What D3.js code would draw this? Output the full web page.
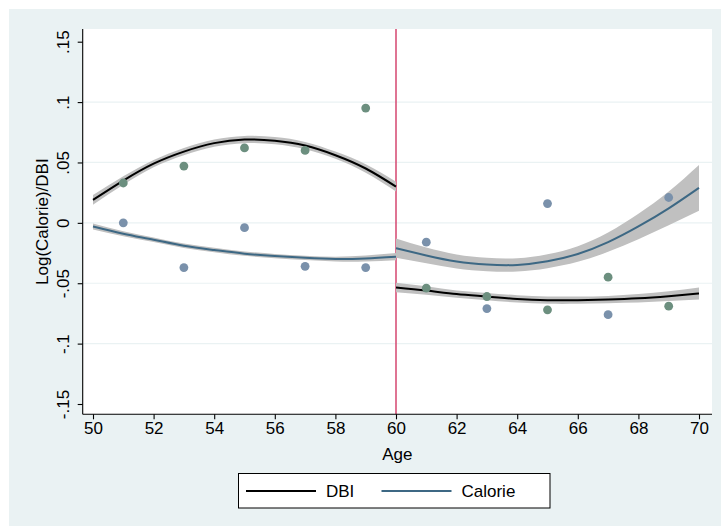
<!DOCTYPE html>
<html>
  <head>
    <title>Log(Calorie)/DBI by Age</title>
  </head>
  <body>
    <style>
      body, html {
        margin: 0;
        padding: 0;
        background: #fff;
      }
      svg text {
        font-family: "Liberation Sans", Arial, sans-serif;
        fill: #000;
      }
    </style>

    <svg id="svg" width="721" height="526"></svg>

    <script src="https://cdn.jsdelivr.net/npm/d3@7"></script>
    <script>
      // binned means (scatter)
      const binAgesLeft = [51, 53, 55, 57, 59];
      const binAgesRight = [61, 63, 65, 67, 69];
      const dbiBinsLeft = [0.033, 0.047, 0.062, 0.060, 0.095];
      const calBinsLeft = [0.000, -0.037, -0.004, -0.036, -0.037];
      const dbiBinsRight = [-0.054, -0.061, -0.072, -0.045, -0.069];
      const calBinsRight = [-0.016, -0.071, 0.016, -0.076, 0.021];

      // fitted lines and CI half-widths, read at whole ages
      const fitAgesLeft = [50, 51, 52, 53, 54, 55, 56, 57, 58, 59, 60];
      const fitAgesRight = [60, 61, 62, 63, 64, 65, 66, 67, 68, 69, 70];
      const dbiFitLeft = [0.019, 0.035, 0.049, 0.059, 0.066, 0.069, 0.068, 0.064, 0.056, 0.045, 0.030];
      const dbiCiLeft = [0.004, 0.0035, 0.003, 0.003, 0.003, 0.003, 0.003, 0.003, 0.003, 0.0035, 0.004];
      const calFitLeft = [-0.003, -0.009, -0.014, -0.019, -0.0225, -0.0255, -0.0275, -0.029, -0.030, -0.0295, -0.028];
      const calCiLeft = [0.0025, 0.002, 0.0018, 0.0018, 0.0018, 0.0018, 0.0018, 0.0018, 0.002, 0.0025, 0.003];
      const dbiFitRight = [-0.0535, -0.056, -0.059, -0.061, -0.063, -0.064, -0.064, -0.0635, -0.0625, -0.0607, -0.0585];
      const dbiCiRight = [0.004, 0.0035, 0.003, 0.003, 0.003, 0.003, 0.003, 0.003, 0.0035, 0.004, 0.005];
      const calFitRight = [-0.021, -0.027, -0.032, -0.0345, -0.0348, -0.0318, -0.0258, -0.016, -0.003, 0.012, 0.029];
      const calCiRight = [0.008, 0.0065, 0.0058, 0.0055, 0.0055, 0.0058, 0.0065, 0.008, 0.0105, 0.014, 0.019];

      const xTicks = [50, 52, 54, 56, 58, 60, 62, 64, 66, 68, 70];
      const yTicks = [-0.15, -0.1, -0.05, 0, 0.05, 0.1, 0.15];
      const yTickLabels = ['-.15', '-.1', '-.05', '0', '.05', '.1', '.15'];
      const cutoff = 60;
      const legendItems = ['DBI', 'Calorie'];

      const colors = {
        dbiLine: '#000000',
        calLine: '#3d6884',
        dbiDot: '#6c8f7f',
        calDot: '#7a91ab',
        band: '#c0c0c0',
        bg: '#eaf2f3',
        grid: '#eaf2f3',
        xline: '#d5466f'
      };

      const plot = { left: 82.7, right: 712, top: 29, bottom: 414.3 };

      const svg = d3.select('#svg');

      // outer background + plot region
      svg.append('rect')
        .attr('x', 9).attr('y', 9)
        .attr('width', 721 - 9).attr('height', 526 - 9)
        .attr('fill', colors.bg);
      svg.append('rect')
        .attr('x', plot.left).attr('y', plot.top)
        .attr('width', plot.right - plot.left).attr('height', plot.bottom - plot.top)
        .attr('fill', '#fff');

      const xscale = d3.scaleLinear().domain([50, 70]).range([93, 699]);
      const yscale = d3.scaleLinear().domain([-0.15, 0.15]).range([404, 41.7]);

      // gridlines (interior ticks only)
      svg.append('g')
        .selectAll('line')
        .data(yTicks.slice(1, -1))
        .join('line')
        .attr('x1', plot.left).attr('x2', plot.right)
        .attr('y1', d => yscale(d)).attr('y2', d => yscale(d))
        .attr('stroke', colors.grid)
        .attr('stroke-width', 1.2);

      // cutoff line
      svg.append('line')
        .attr('x1', xscale(cutoff)).attr('x2', xscale(cutoff))
        .attr('y1', plot.top).attr('y2', plot.bottom)
        .attr('stroke', colors.xline)
        .attr('stroke-width', 1.5);

      const area = d3.area()
        .x(d => xscale(d.age))
        .y0(d => yscale(d.v - d.ci))
        .y1(d => yscale(d.v + d.ci))
        .curve(d3.curveNatural);

      const line = d3.line()
        .x(d => xscale(d.age))
        .y(d => yscale(d.v))
        .curve(d3.curveNatural);

      const zipFit = (ages, vals, cis) => ages.map((age, i) => ({ age, v: vals[i], ci: cis[i] }));

      const fits = [
        { pts: zipFit(fitAgesLeft, dbiFitLeft, dbiCiLeft), color: colors.dbiLine },
        { pts: zipFit(fitAgesLeft, calFitLeft, calCiLeft), color: colors.calLine },
        { pts: zipFit(fitAgesRight, dbiFitRight, dbiCiRight), color: colors.dbiLine },
        { pts: zipFit(fitAgesRight, calFitRight, calCiRight), color: colors.calLine }
      ];

      svg.append('g')
        .selectAll('path')
        .data(fits)
        .join('path')
        .attr('d', d => area(d.pts))
        .attr('fill', colors.band);

      svg.append('g')
        .selectAll('path')
        .data(fits)
        .join('path')
        .attr('d', d => line(d.pts))
        .attr('fill', 'none')
        .attr('stroke', d => d.color)
        .attr('stroke-width', 2);

      // scatter points
      const dots = [];
      binAgesLeft.forEach((a, i) => {
        dots.push({ age: a, v: dbiBinsLeft[i], c: colors.dbiDot });
        dots.push({ age: a, v: calBinsLeft[i], c: colors.calDot });
      });
      binAgesRight.forEach((a, i) => {
        dots.push({ age: a, v: dbiBinsRight[i], c: colors.dbiDot });
        dots.push({ age: a, v: calBinsRight[i], c: colors.calDot });
      });

      svg.append('g')
        .selectAll('circle')
        .data(dots)
        .join('circle')
        .attr('cx', d => xscale(d.age))
        .attr('cy', d => yscale(d.v))
        .attr('r', 4.4)
        .attr('fill', d => d.c);

      // axes
      const bottomAxis = d3.axisBottom(xscale)
        .tickValues(xTicks)
        .tickSize(5)
        .tickSizeOuter(0);
      const gx = svg.append('g')
        .attr('transform', `translate(0, ${plot.bottom})`)
        .call(bottomAxis);
      gx.select('.domain').remove();
      gx.selectAll('.tick line').attr('stroke', '#000').attr('stroke-width', 1.1);
      gx.selectAll('.tick text')
        .attr('y', 8)
        .attr('dy', '0.71em')
        .style('font-size', '17px')
        .style('font-family', '"Liberation Sans", Arial, sans-serif');
      svg.append('line')
        .attr('x1', plot.left).attr('x2', plot.right)
        .attr('y1', plot.bottom).attr('y2', plot.bottom)
        .attr('stroke', '#000').attr('stroke-width', 1.1);

      const leftAxis = d3.axisLeft(yscale)
        .tickValues(yTicks)
        .tickFormat((d, i) => yTickLabels[i])
        .tickSize(5)
        .tickSizeOuter(0);
      const gy = svg.append('g')
        .attr('transform', `translate(${plot.left}, 0)`)
        .call(leftAxis);
      gy.select('.domain').remove();
      gy.selectAll('.tick line').attr('stroke', '#000').attr('stroke-width', 1.1);
      gy.selectAll('.tick text')
        .attr('transform', 'rotate(-90)')
        .attr('x', 0)
        .attr('y', -14)
        .attr('dy', 0)
        .style('text-anchor', 'middle')
        .style('font-size', '17px')
        .style('font-family', '"Liberation Sans", Arial, sans-serif');
      svg.append('line')
        .attr('x1', plot.left).attr('x2', plot.left)
        .attr('y1', plot.top).attr('y2', plot.bottom)
        .attr('stroke', '#000').attr('stroke-width', 1.1);

      // axis titles
      svg.append('text')
        .attr('x', (plot.left + plot.right) / 2)
        .attr('y', 460)
        .attr('text-anchor', 'middle')
        .style('font-size', '17px')
        .text('Age');

      svg.append('text')
        .attr('transform', `translate(48, ${(plot.top + plot.bottom) / 2}) rotate(-90)`)
        .attr('text-anchor', 'middle')
        .style('font-size', '17px')
        .text('Log(Calorie)/DBI');

      // legend
      const legend = svg.append('g');
      legend.append('rect')
        .attr('x', 238.5).attr('y', 473.5)
        .attr('width', 311.5).attr('height', 34.5)
        .attr('fill', '#fff')
        .attr('stroke', '#000')
        .attr('stroke-width', 1);

      const legendX = [246, 381.5];
      const legendColors = [colors.dbiLine, colors.calLine];
      legendItems.forEach((name, i) => {
        legend.append('line')
          .attr('x1', legendX[i]).attr('x2', legendX[i] + 70)
          .attr('y1', 491).attr('y2', 491)
          .attr('stroke', legendColors[i])
          .attr('stroke-width', 2);
        legend.append('text')
          .attr('x', legendX[i] + 80)
          .attr('y', 497)
          .style('font-size', '17px')
          .text(name);
      });
    </script>
  </body>
</html>
